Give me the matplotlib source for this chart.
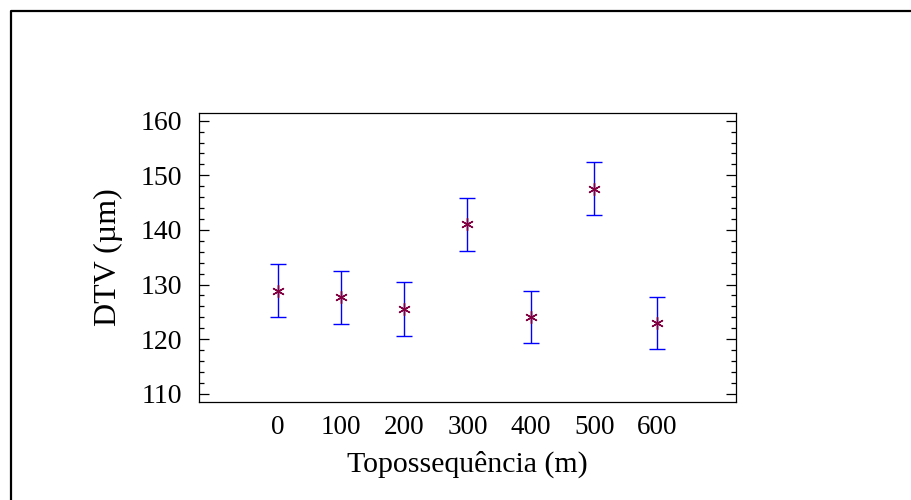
import matplotlib.pyplot as plt
from matplotlib.lines import Line2D
from matplotlib.ticker import MultipleLocator

# data
topo = [0, 100, 200, 300, 400, 500, 600]
dtv_mean = [128.9, 127.7, 125.6, 141.0, 124.0, 147.5, 123.0]
dtv_lower = [124.0, 122.8, 120.6, 136.1, 119.3, 142.7, 118.2]
dtv_upper = [133.8, 132.5, 130.4, 145.9, 128.9, 152.5, 127.7]

plt.rcParams['font.family'] = ['Liberation Serif', 'DejaVu Serif']

fig = plt.figure(figsize=(9.12, 5), dpi=100)
ax = fig.add_axes([199/912, 1-402/500, (736-199)/912, (402-112.5)/500])

err = [[m - lo for m, lo in zip(dtv_mean, dtv_lower)],
       [hi - m for m, hi in zip(dtv_mean, dtv_upper)]]
ax.errorbar(topo, dtv_mean, yerr=err, fmt='none', ecolor='#0000ff',
            elinewidth=1.0, capsize=6, capthick=1.0)
ax.plot(topo, dtv_mean, linestyle='none', marker=(6, 2, 0), markersize=9,
        color='#800040', markeredgewidth=1.0)

ax.set_xlim(-124, 724)
ax.set_ylim(108.5, 161.5)
ax.set_xticks(topo)
ax.set_xticklabels([str(t) for t in topo])
ax.yaxis.set_major_locator(MultipleLocator(10))
ax.yaxis.set_minor_locator(MultipleLocator(2))
ax.tick_params(axis='x', length=0, pad=9, labelsize=19.5)
ax.tick_params(axis='y', which='major', direction='in', length=7, width=0.9,
               right=True, pad=12, labelsize=20)
ax.tick_params(axis='y', which='minor', direction='in', length=3.5, width=0.9,
               right=True)
for s in ax.spines.values():
    s.set_linewidth(0.9)

ax.set_xlabel('Topossequência (m)', fontsize=21.5, labelpad=8)
ax.set_ylabel('DTV (µm)', fontsize=23, labelpad=13)

# outer frame (left and top only)
fx = 11/912
fy = 1 - 11/500
fig.add_artist(Line2D([fx, fx, 1.0], [0.0, fy, fy], transform=fig.transFigure,
                      color='black', linewidth=1.6))

fig.savefig('out.png', dpi=100)
